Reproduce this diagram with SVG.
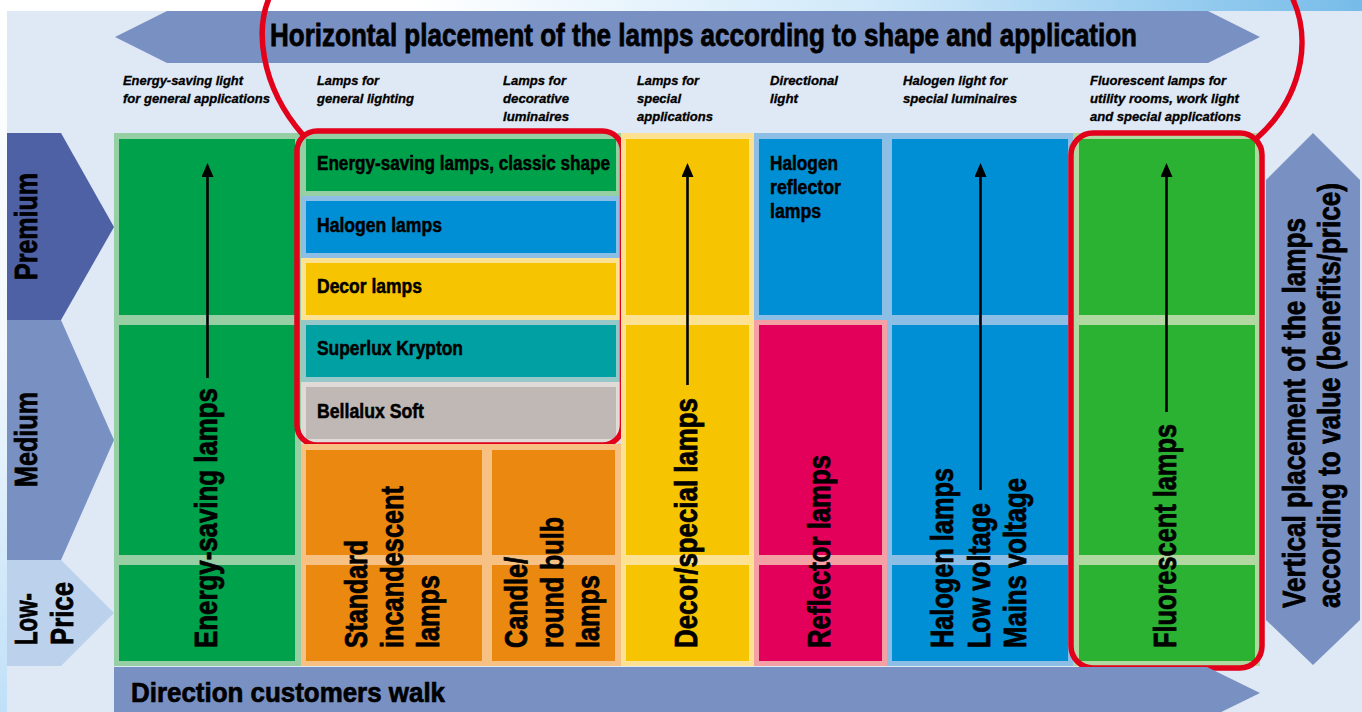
<svg xmlns="http://www.w3.org/2000/svg" width="1362" height="712" viewBox="0 0 1362 712">
<defs>
<linearGradient id="bg" x1="0" y1="0" x2="1362" y2="0" gradientUnits="userSpaceOnUse">
<stop offset="0" stop-color="#ffffff"/><stop offset="0.3" stop-color="#ffffff"/><stop offset="0.65" stop-color="#cfe8f9"/><stop offset="1" stop-color="#76bce9"/>
</linearGradient>
<linearGradient id="lbg" x1="0" y1="0" x2="0" y2="712" gradientUnits="userSpaceOnUse">
<stop offset="0" stop-color="#ffffff"/><stop offset="0.5" stop-color="#f2f8fd"/><stop offset="1" stop-color="#bfe0f8"/>
</linearGradient>
<marker id="ah" viewBox="0 0 14 12" refX="0" refY="6" markerWidth="14" markerHeight="12" markerUnits="userSpaceOnUse" orient="auto">
<path d="M0 0 L14 6 L0 12 Z" fill="#000"/>
</marker>
</defs>
<style>
.t{font-family:"Liberation Sans Narrow","Liberation Sans",Arial,sans-serif;font-weight:bold;fill:#000;stroke:#000}
.big{font-size:32px;stroke-width:0.8}
.walk{font-size:28px;stroke-width:0.7}
.cell{font-size:19.5px;stroke-width:0.5}
.hdr{font-size:12.5px;font-style:italic;stroke-width:0.3}
.red{fill:none;stroke:#E2001A;stroke-width:5.5}
.arw{stroke:#000;stroke-width:2.6;fill:none}
.band{fill:#7890C2}
</style>

<rect width="1362" height="712" fill="url(#bg)"/>
<rect x="0" y="0" width="7" height="712" fill="url(#lbg)"/>
<rect x="7" y="11" width="1355" height="701" fill="#DFE8F5"/>

<g id="horizontal-arrow">
<polygon class="band" points="115,37 167,11 1208,11 1260,37 1208,63 167,63"/>
<text class="t big" x="270" y="46" textLength="867" lengthAdjust="spacingAndGlyphs">Horizontal placement of the lamps according to shape and application</text>
</g>

<g id="headers">
<text class="t hdr" x="123" y="85" textLength="120" lengthAdjust="spacingAndGlyphs">Energy-saving light</text>
<text class="t hdr" x="123" y="103" textLength="147" lengthAdjust="spacingAndGlyphs">for general applications</text>
<text class="t hdr" x="317" y="85" textLength="62" lengthAdjust="spacingAndGlyphs">Lamps for</text>
<text class="t hdr" x="317" y="103" textLength="97" lengthAdjust="spacingAndGlyphs">general lighting</text>
<text class="t hdr" x="503" y="85" textLength="63" lengthAdjust="spacingAndGlyphs">Lamps for</text>
<text class="t hdr" x="503" y="103" textLength="66" lengthAdjust="spacingAndGlyphs">decorative</text>
<text class="t hdr" x="503" y="121" textLength="66" lengthAdjust="spacingAndGlyphs">luminaires</text>
<text class="t hdr" x="637" y="85" textLength="62" lengthAdjust="spacingAndGlyphs">Lamps for</text>
<text class="t hdr" x="637" y="103" textLength="44" lengthAdjust="spacingAndGlyphs">special</text>
<text class="t hdr" x="637" y="121" textLength="76" lengthAdjust="spacingAndGlyphs">applications</text>
<text class="t hdr" x="770" y="85" textLength="68" lengthAdjust="spacingAndGlyphs">Directional</text>
<text class="t hdr" x="770" y="103" textLength="28" lengthAdjust="spacingAndGlyphs">light</text>
<text class="t hdr" x="903" y="85" textLength="104" lengthAdjust="spacingAndGlyphs">Halogen light for</text>
<text class="t hdr" x="903" y="103" textLength="114" lengthAdjust="spacingAndGlyphs">special luminaires</text>
<text class="t hdr" x="1090" y="85" textLength="136" lengthAdjust="spacingAndGlyphs">Fluorescent lamps for</text>
<text class="t hdr" x="1090" y="103" textLength="149" lengthAdjust="spacingAndGlyphs">utility rooms, work light</text>
<text class="t hdr" x="1090" y="121" textLength="151" lengthAdjust="spacingAndGlyphs">and special applications</text>
</g>

<g id="premium">
<polygon points="7,133 61,133 114,227 61,320 7,320" fill="#4E61A5"/>
<text class="t big" transform="translate(37,280) rotate(-90)" textLength="107" lengthAdjust="spacingAndGlyphs">Premium</text>
</g>
<g id="medium">
<polygon points="7,320 61,320 114,440 61,560 7,560" fill="#7890C2"/>
<text class="t big" transform="translate(37,487) rotate(-90)" textLength="95" lengthAdjust="spacingAndGlyphs">Medium</text>
</g>
<g id="low-price">
<polygon points="7,560 61,560 114,613 61,666 7,666" fill="#BCD2EC"/>
<text class="t big" transform="translate(37,645) rotate(-90)" textLength="52" lengthAdjust="spacingAndGlyphs">Low-</text>
<text class="t big" transform="translate(73,645) rotate(-90)" textLength="63" lengthAdjust="spacingAndGlyphs">Price</text>
</g>

<g id="energy-saving-lamps">
<rect x="114" y="133" width="187" height="533" fill="#97CFA5"/>
<rect x="119" y="139" width="176" height="176" fill="#00A14B"/>
<rect x="119" y="325" width="176" height="230" fill="#00A14B"/>
<rect x="119" y="565" width="176" height="96" fill="#00A14B"/>
<text class="t big" transform="translate(217,648) rotate(-90)" textLength="260" lengthAdjust="spacingAndGlyphs">Energy-saving lamps</text>
</g>

<g id="general-lighting">
<rect x="301" y="133" width="320" height="63" fill="#97CFA5"/>
<rect x="306" y="139" width="310" height="52" fill="#00A14B"/>
<text class="t cell" x="317" y="170" textLength="293" lengthAdjust="spacingAndGlyphs">Energy-saving lamps, classic shape</text>
<rect x="301" y="196" width="320" height="62" fill="#8DBFE6"/>
<rect x="306" y="201" width="310" height="52" fill="#008FD5"/>
<text class="t cell" x="317" y="232" textLength="125" lengthAdjust="spacingAndGlyphs">Halogen lamps</text>
<rect x="301" y="258" width="320" height="62" fill="#FCE292"/>
<rect x="306" y="263" width="310" height="52" fill="#F6C400"/>
<text class="t cell" x="317" y="293" textLength="105" lengthAdjust="spacingAndGlyphs">Decor lamps</text>
<rect x="301" y="320" width="320" height="62" fill="#96C8CA"/>
<rect x="306" y="325" width="310" height="52" fill="#00A0A3"/>
<text class="t cell" x="317" y="355" textLength="146" lengthAdjust="spacingAndGlyphs">Superlux Krypton</text>
<rect x="301" y="382" width="320" height="62" fill="#E0DBD9"/>
<rect x="306" y="387" width="310" height="52" fill="#BFB8B5"/>
<text class="t cell" x="317" y="418" textLength="107" lengthAdjust="spacingAndGlyphs">Bellalux Soft</text>
<rect class="red" x="297" y="131" width="325.5" height="314" rx="20"/>
</g>

<g id="incandescent-lamps">
<rect x="301" y="444" width="320" height="222" fill="#F7C184"/>
<rect x="306" y="450" width="176" height="105" fill="#EA8810"/>
<rect x="306" y="565" width="176" height="96" fill="#EA8810"/>
<rect x="492" y="450" width="123" height="105" fill="#EA8810"/>
<rect x="492" y="565" width="123" height="96" fill="#EA8810"/>
<text class="t big" transform="translate(367,648) rotate(-90)" textLength="108" lengthAdjust="spacingAndGlyphs">Standard</text>
<text class="t big" transform="translate(403,648) rotate(-90)" textLength="162" lengthAdjust="spacingAndGlyphs">incandescent</text>
<text class="t big" transform="translate(439,648) rotate(-90)" textLength="73" lengthAdjust="spacingAndGlyphs">lamps</text>
<text class="t big" transform="translate(527,648) rotate(-90)" textLength="91" lengthAdjust="spacingAndGlyphs">Candle/</text>
<text class="t big" transform="translate(563,648) rotate(-90)" textLength="131" lengthAdjust="spacingAndGlyphs">round bulb</text>
<text class="t big" transform="translate(599,648) rotate(-90)" textLength="73" lengthAdjust="spacingAndGlyphs">lamps</text>
</g>

<g id="decor-special-lamps">
<rect x="621" y="133" width="133" height="533" fill="#FCE292"/>
<rect x="626" y="139" width="123" height="176" fill="#F6C400"/>
<rect x="626" y="325" width="123" height="230" fill="#F6C400"/>
<rect x="626" y="565" width="123" height="96" fill="#F6C400"/>
<text class="t big" transform="translate(697,648) rotate(-90)" textLength="250" lengthAdjust="spacingAndGlyphs">Decor/special lamps</text>
</g>

<g id="directional-light">
<rect x="754" y="133" width="319" height="533" fill="#8DBFE6"/>
<rect x="759" y="139" width="123" height="176" fill="#008FD5"/>
<text class="t cell" x="770" y="170" textLength="68" lengthAdjust="spacingAndGlyphs">Halogen</text>
<text class="t cell" x="770" y="194" textLength="71" lengthAdjust="spacingAndGlyphs">reflector</text>
<text class="t cell" x="770" y="218" textLength="51" lengthAdjust="spacingAndGlyphs">lamps</text>
</g>

<g id="reflector-lamps">
<rect x="754" y="320" width="133" height="346" fill="#F4A1A6"/>
<rect x="759" y="325" width="123" height="230" fill="#E2005A"/>
<rect x="759" y="565" width="123" height="96" fill="#E2005A"/>
<text class="t big" transform="translate(830,648) rotate(-90)" textLength="193" lengthAdjust="spacingAndGlyphs">Reflector lamps</text>
</g>

<g id="halogen-lamps">
<rect x="892" y="139" width="176" height="176" fill="#008FD5"/>
<rect x="892" y="325" width="176" height="230" fill="#008FD5"/>
<rect x="892" y="565" width="176" height="96" fill="#008FD5"/>
<text class="t big" transform="translate(953,648) rotate(-90)" textLength="180" lengthAdjust="spacingAndGlyphs">Halogen lamps</text>
<text class="t big" transform="translate(990,648) rotate(-90)" textLength="145" lengthAdjust="spacingAndGlyphs">Low voltage</text>
<text class="t big" transform="translate(1026,648) rotate(-90)" textLength="170" lengthAdjust="spacingAndGlyphs">Mains voltage</text>
</g>

<g id="fluorescent-lamps">
<rect x="1073" y="133" width="187" height="533" fill="#B2D8A2"/>
<rect x="1079" y="139" width="176" height="176" fill="#2BB232"/>
<rect x="1079" y="325" width="176" height="230" fill="#2BB232"/>
<rect x="1079" y="565" width="176" height="96" fill="#2BB232"/>
<text class="t big" transform="translate(1176,648) rotate(-90)" textLength="224" lengthAdjust="spacingAndGlyphs">Fluorescent lamps</text>
<rect class="red" x="1071" y="133" width="191" height="535" rx="22"/>
</g>

<g id="vertical-arrow">
<polygon class="band" points="1313,133 1360,180 1360,620 1313,665 1266,620 1266,180"/>
<text class="t big" transform="translate(1305,608) rotate(-90)" textLength="390" lengthAdjust="spacingAndGlyphs">Vertical placement of the lamps</text>
<text class="t big" transform="translate(1340,608) rotate(-90)" textLength="425" lengthAdjust="spacingAndGlyphs">according to value (benefits/price)</text>
</g>

<g id="walk-arrow">
<polygon class="band" points="114,667 1207,667 1260,693 1207,719 114,719"/>
<text class="t walk" x="131" y="702" textLength="314" lengthAdjust="spacingAndGlyphs">Direction customers walk</text>
</g>

<g id="connectors">
<line class="arw" x1="207.5" y1="378" x2="207.5" y2="177" marker-end="url(#ah)"/>
<line class="arw" x1="687.5" y1="385" x2="687.5" y2="177" marker-end="url(#ah)"/>
<line class="arw" x1="980.5" y1="490" x2="980.5" y2="177" marker-end="url(#ah)"/>
<line class="arw" x1="1166.5" y1="412" x2="1166.5" y2="177" marker-end="url(#ah)"/>
<path class="red" d="M303,135 C262,88 250,25 276,-15 L1285,-15 C1315,30 1305,95 1257,138"/>
</g>
</svg>
